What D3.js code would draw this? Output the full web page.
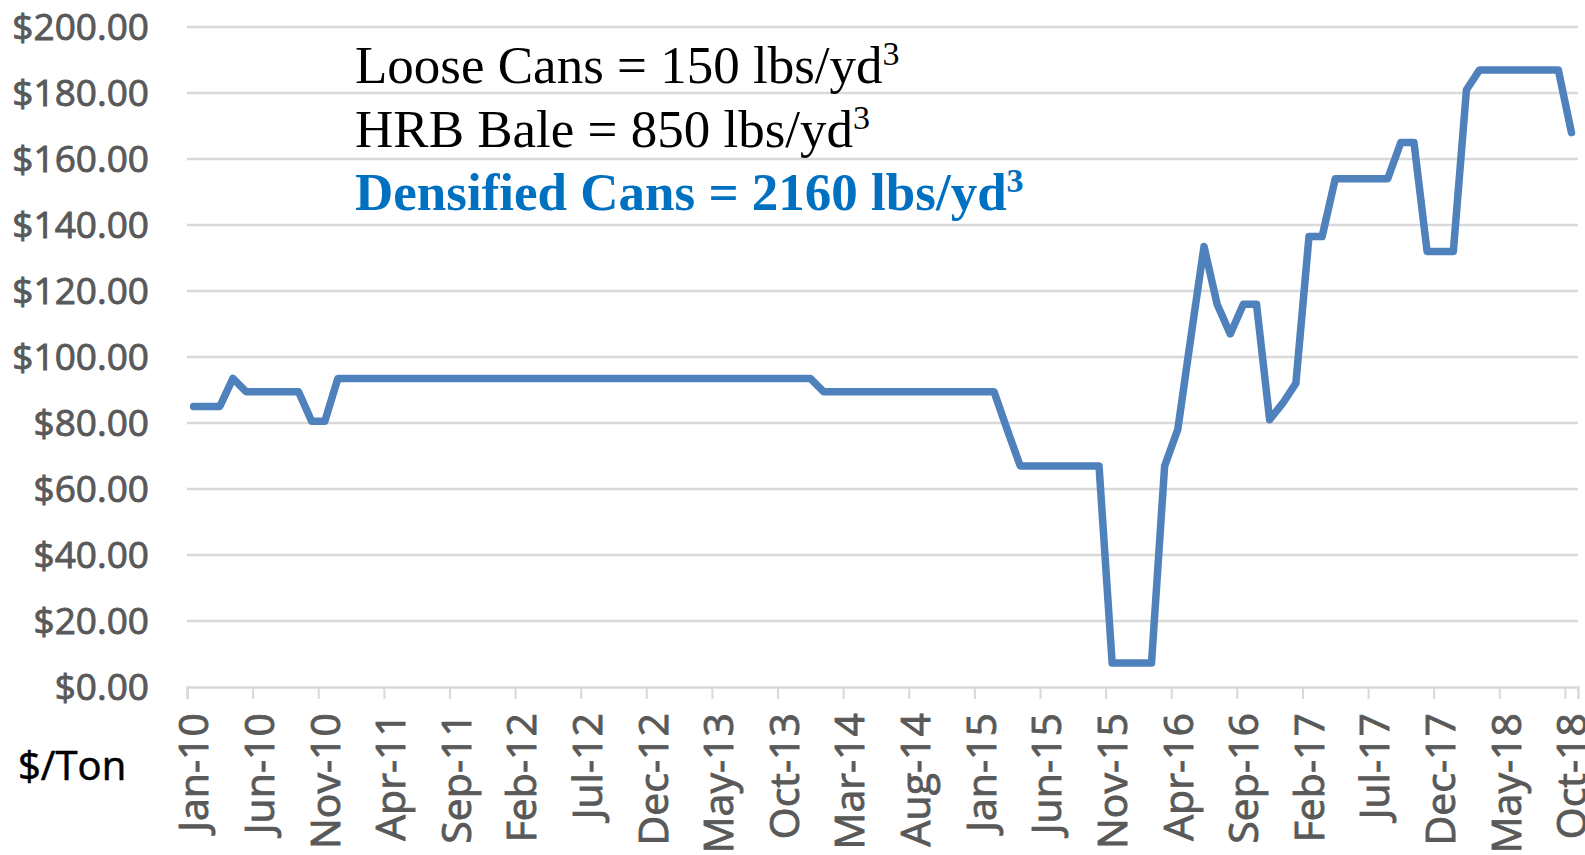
<!DOCTYPE html>
<html>
<head>
<meta charset="utf-8">
<script src="https://cdn.jsdelivr.net/npm/d3@7/dist/d3.min.js"></script>
<style>
  body { margin: 0; background: #fff; }
</style>
</head>
<body>
<div id="chart-area"></div>
<script>
// monthly price, Jan-10 .. Oct-18 ($/ton)
var prices = [
  85, 85, 85, 93.5, 89.5, 89.5, 89.5, 89.5, 89.5, 80.5, 80.5, 93.5,
  93.5, 93.5, 93.5, 93.5, 93.5, 93.5, 93.5, 93.5, 93.5, 93.5, 93.5, 93.5,
  93.5, 93.5, 93.5, 93.5, 93.5, 93.5, 93.5, 93.5, 93.5, 93.5, 93.5, 93.5,
  93.5, 93.5, 93.5, 93.5, 93.5, 93.5, 93.5, 93.5, 93.5, 93.5, 93.5, 93.5,
  89.5, 89.5, 89.5, 89.5, 89.5, 89.5, 89.5, 89.5, 89.5, 89.5, 89.5, 89.5,
  89.5, 89.5, 78, 67, 67, 67, 67, 67, 67, 67, 7.3, 7.3,
  7.3, 7.3, 67, 78, 106, 133.5, 116, 107, 116, 116, 81, 86,
  92, 136.5, 136.5, 154, 154, 154, 154, 154, 165, 165, 132, 132,
  132, 181, 187, 187, 187, 187, 187, 187, 187, 168
];
var tickLabels = ["Jan-10","Jun-10","Nov-10","Apr-11","Sep-11","Feb-12","Jul-12","Dec-12",
  "May-13","Oct-13","Mar-14","Aug-14","Jan-15","Jun-15","Nov-15","Apr-16","Sep-16",
  "Feb-17","Jul-17","Dec-17","May-18","Oct-18"];
var tickStep = 5;
var yTicks = [0, 20, 40, 60, 80, 100, 120, 140, 160, 180, 200];
var notes = [
  {text: "Loose Cans = 150 lbs/yd", sup: "3", bold: false, color: "#000"},
  {text: "HRB Bale = 850 lbs/yd", sup: "3", bold: false, color: "#000"},
  {text: "Densified Cans = 2160 lbs/yd", sup: "3", bold: true, color: "#0070c0"}
];

var width = 1585;
var height = 855;

var svg = d3.select("#chart-area").append("svg")
  .attr("width", width)
  .attr("height", height);

var x = d3.scaleLinear()
  .domain([0, prices.length])
  .range([187, 1578]);

var y = d3.scaleLinear()
  .domain([0, 200])
  .range([687, 27]);

// gridlines
svg.append("g")
  .attr("class", "grid")
  .selectAll("line")
  .data(yTicks.slice(1))
  .enter()
  .append("line")
  .attr("x1", x(0))
  .attr("x2", x(prices.length))
  .attr("y1", (d) => y(d))
  .attr("y2", (d) => y(d))
  .attr("stroke", "#d9d9d9")
  .attr("stroke-width", 2.5);

// y axis labels
var leftAxis = d3.axisLeft(y)
  .tickValues(yTicks)
  .tickSize(0)
  .tickPadding(0)
  .tickFormat((d) => "$" + d3.format(".2f")(d));
var yAxis = svg.append("g")
  .attr("class", "left axis")
  .attr("transform", "translate(149,0)")
  .call(leftAxis);
yAxis.select(".domain").remove();
yAxis.selectAll("text")
  .attr("font-family", "'Open Sans', sans-serif")
  .attr("font-size", "37px")
  .attr("fill", "#595959")
  .attr("stroke", "#595959")
  .attr("stroke-width", 0.9)
  .attr("dy", "0.35em");

// x axis
var tickIdx = tickLabels.map((d, i) => i * tickStep);
var bottomAxis = d3.axisBottom(x)
  .tickValues(tickIdx)
  .tickSize(12)
  .tickFormat("");
var xAxis = svg.append("g")
  .attr("class", "bottom axis")
  .attr("transform", "translate(0," + y(0) + ")")
  .call(bottomAxis);
xAxis.select(".domain")
  .attr("stroke", "#d9d9d9")
  .attr("stroke-width", 2.5);
xAxis.selectAll(".tick line")
  .attr("stroke", "#d9d9d9")
  .attr("stroke-width", 2);

svg.append("g")
  .attr("class", "x labels")
  .selectAll("text")
  .data(tickLabels)
  .enter()
  .append("text")
  .attr("transform", (d, i) => "translate(" + x(i * tickStep + 0.5) + "," + 713 + ") rotate(-90)")
  .attr("text-anchor", "end")
  .attr("dy", "0.36em")
  .attr("font-family", "'Open Sans', sans-serif")
  .attr("font-size", "41px")
  .attr("fill", "#595959")
  .attr("stroke", "#595959")
  .attr("stroke-width", 0.9)
  .text((d) => d);

svg.append("text")
  .attr("x", 18)
  .attr("y", 766)
  .attr("dy", "0.36em")
  .attr("font-family", "'Open Sans', sans-serif")
  .attr("font-size", "40px")
  .attr("fill", "#000")
  .attr("stroke", "#000")
  .attr("stroke-width", 0.6)
  .text("$/Ton");

// price line
var line = d3.line()
  .x((d, i) => x(i + 0.5))
  .y((d) => y(d));

svg.append("path")
  .datum(prices)
  .attr("d", line)
  .attr("fill", "none")
  .attr("stroke", "#4f81bd")
  .attr("stroke-width", 7.5)
  .attr("stroke-linejoin", "round")
  .attr("stroke-linecap", "round");

// density notes
var noteText = svg.append("g")
  .attr("class", "notes")
  .selectAll("text")
  .data(notes)
  .enter()
  .append("text")
  .attr("x", 355)
  .attr("y", (d, i) => 83 + i * 63.5)
  .attr("font-family", "'Liberation Serif', 'Times New Roman', serif")
  .attr("font-size", "53px")
  .attr("font-weight", (d) => d.bold ? "bold" : "normal")
  .attr("fill", (d) => d.color);
noteText.append("tspan").text((d) => d.text);
noteText.append("tspan")
  .attr("font-size", "34px")
  .attr("dy", "-18")
  .text((d) => d.sup);
</script>
</body>
</html>
